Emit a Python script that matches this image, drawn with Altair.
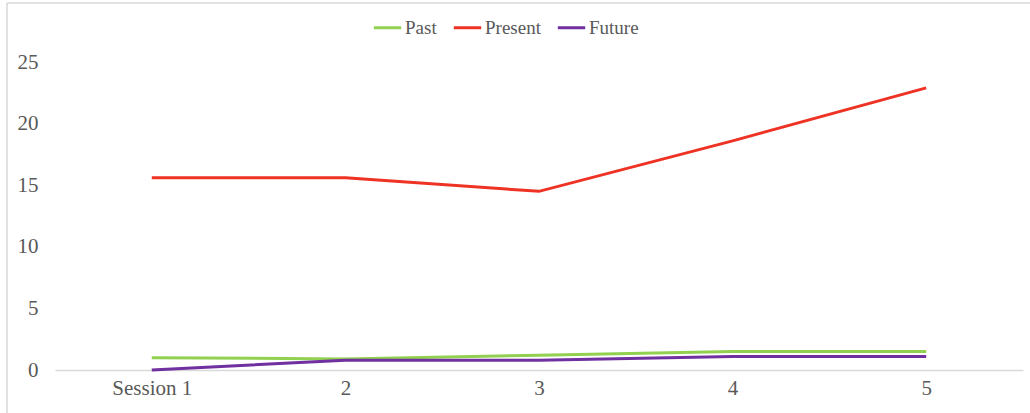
import altair as alt
import pandas as pd

sessions = ["Session 1", "2", "3", "4", "5"]
past = [1.0, 0.9, 1.2, 1.5, 1.5]
present = [15.6, 15.6, 14.5, 18.6, 22.9]
future = [0.0, 0.8, 0.8, 1.1, 1.1]
series_names = ["Past", "Present", "Future"]
series_colors = ["#92d050", "#ee3224", "#7030a0"]

rows = []
for name, vals in zip(series_names, [past, present, future]):
    for s, v in zip(sessions, vals):
        rows.append({"Session": s, "Series": name, "Value": v})
df = pd.DataFrame(rows)

FONT = "Liberation Serif"

lines = alt.Chart(df).mark_line(strokeWidth=3).encode(
    x=alt.X("Session:N", sort=sessions,
            scale=alt.Scale(type="point", padding=0.5),
            axis=alt.Axis(title=None, labelAngle=0, ticks=False, domainColor="#d9d9d9",
                          domainWidth=1.5, labelFont=FONT, labelFontSize=21,
                          labelColor="#595959", labelPadding=7, grid=False)),
    y=alt.Y("Value:Q", scale=alt.Scale(domain=[0, 25], nice=False),
            axis=alt.Axis(title=None, values=[0, 5, 10, 15, 20, 25], domain=False, ticks=False,
                          grid=False, labelFont=FONT, labelFontSize=21,
                          labelColor="#595959", labelPadding=17)),
    color=alt.Color("Series:N", sort=series_names,
                    scale=alt.Scale(domain=series_names, range=series_colors),
                    legend=alt.Legend(title=None, orient="none", direction="horizontal",
                                      legendX=317, legendY=-50,
                                      symbolType="stroke", symbolSize=750, symbolStrokeWidth=3,
                                      labelFont=FONT, labelFontSize=19, labelColor="#595959",
                                      labelOffset=2, columnPadding=10)),
    order=alt.Order("Series:N"),
)

one = pd.DataFrame({"a": [0]})
left_edge = alt.Chart(one).mark_rule(color="#d9d9d9", strokeWidth=1.5).encode(
    x=alt.value(-48), y=alt.value(-59), y2=alt.value(400)
)
top_edge = alt.Chart(one).mark_rule(color="#d9d9d9", strokeWidth=1.5).encode(
    x=alt.value(-48), x2=alt.value(1000), y=alt.value(-59)
)

chart = alt.layer(left_edge, top_edge, lines).properties(
    width=968, height=308,
    background="white",
    autosize=alt.AutoSizeParams(type="none"),
    padding={"left": 55, "top": 62, "right": 7, "bottom": 43},
).configure_view(strokeWidth=0, stroke=None)

chart.save("out.html", embed_options={"renderer": "svg", "actions": False})
